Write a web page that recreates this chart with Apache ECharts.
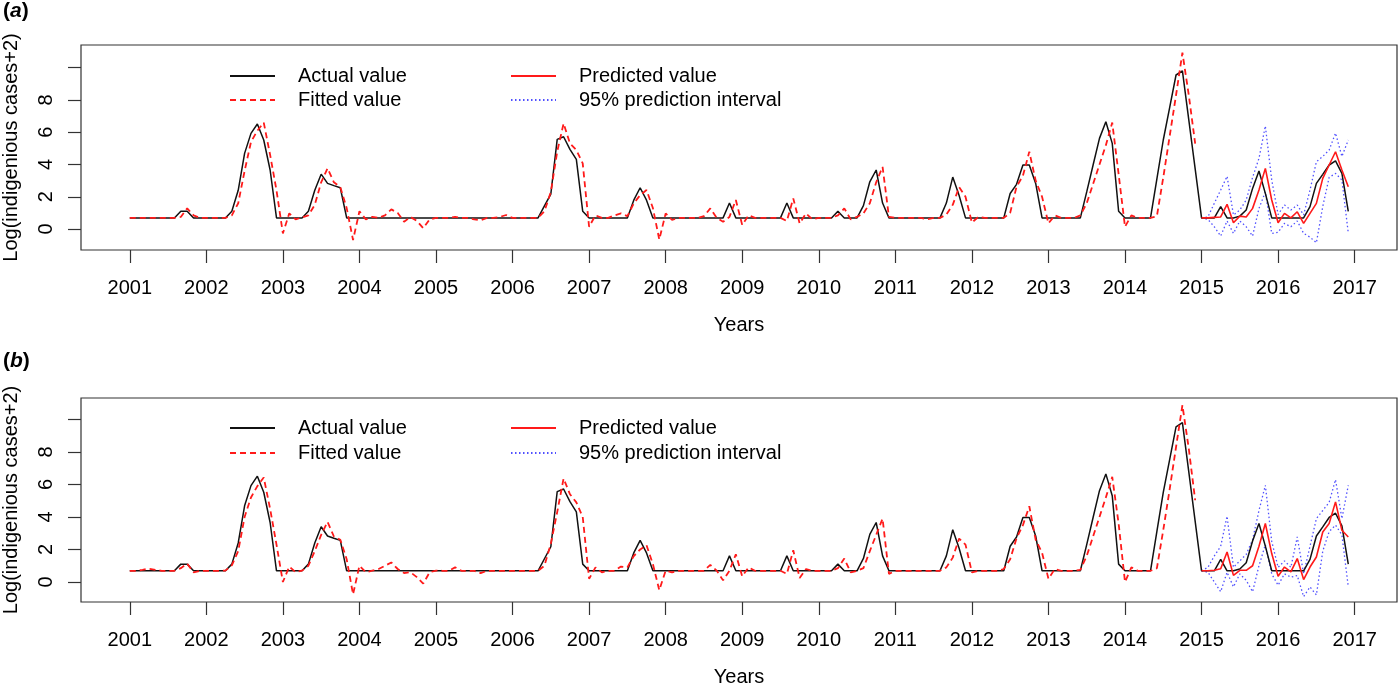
<!DOCTYPE html>
<html>
<head>
<meta charset="utf-8">
<script src="https://cdn.jsdelivr.net/npm/echarts@6/dist/echarts.min.js"></script>
<style>
html,body{margin:0;padding:0;background:#fff;}
#chart{width:1400px;height:685px;}
</style>
</head>
<body>
<div id="chart"></div>
<script>
// ---- data ----
const startYear = 2001;
const yearTicks = [2001,2002,2003,2004,2005,2006,2007,2008,2009,2010,2011,2012,2013,2014,2015,2016,2017];
const yTicks = [0,2,4,6,8,10];
const yTickLabels = [0,2,4,6,8];
const seriesNames = ['Actual value','Fitted value','Predicted value','95% prediction interval'];

// monthly, Jan 2001 - Dec 2016
const actual = [
0.69,0.69,0.69,0.69,0.69,0.69,0.69,0.69,1.10,1.10,0.69,0.69,
0.69,0.69,0.69,0.69,1.10,2.40,4.69,5.93,6.51,5.52,3.66,0.69,
0.69,0.69,0.69,0.69,1.10,2.40,3.40,2.83,2.69,2.56,0.69,0.69,
0.69,0.69,0.69,0.69,0.69,0.69,0.69,0.69,0.69,0.69,0.69,0.69,
0.69,0.69,0.69,0.69,0.69,0.69,0.69,0.69,0.69,0.69,0.69,0.69,
0.69,0.69,0.69,0.69,0.69,1.43,2.17,5.56,5.72,4.94,4.32,1.10,
0.69,0.69,0.69,0.69,0.69,0.69,0.69,1.79,2.56,1.79,0.69,0.69,
0.69,0.69,0.69,0.69,0.69,0.69,0.69,0.69,0.69,0.69,1.61,0.69,
0.69,0.69,0.69,0.69,0.69,0.69,0.69,1.61,0.69,0.69,0.69,0.69,
0.69,0.69,0.69,1.10,0.69,0.69,0.69,1.45,2.93,3.66,1.61,0.69,
0.69,0.69,0.69,0.69,0.69,0.69,0.69,0.69,1.61,3.22,2.08,0.69,
0.69,0.69,0.69,0.69,0.69,0.69,2.20,2.77,3.97,3.97,2.83,0.69,
0.69,0.69,0.69,0.69,0.69,0.69,2.30,3.97,5.62,6.65,5.31,1.10,
0.69,0.69,0.69,0.69,0.69,3.11,5.52,7.53,9.55,9.81,6.77,3.73,
0.69,0.69,0.69,1.39,0.69,0.69,0.80,1.18,2.52,3.60,2.21,0.69,
0.69,0.69,0.69,0.69,0.69,1.39,2.83,3.39,3.97,4.23,3.45,1.10
];

// fitted, Jan 2001 - Dec 2014 (panel a)
const fittedA = [
0.69,0.69,0.69,0.69,0.69,0.69,0.69,0.69,0.75,1.28,0.85,0.69,
0.69,0.69,0.69,0.69,0.85,1.60,3.60,5.40,6.10,6.60,4.60,2.40,
-0.27,0.97,0.60,0.72,0.85,1.50,2.90,3.76,2.90,2.60,1.30,-0.68,
1.10,0.60,0.75,0.69,0.85,1.22,1.00,0.45,0.75,0.50,0.05,0.60,
0.69,0.69,0.69,0.75,0.69,0.69,0.60,0.55,0.69,0.69,0.75,0.87,
0.69,0.69,0.69,0.69,0.69,1.10,2.30,4.80,6.55,5.31,4.90,4.07,
0.14,0.85,0.69,0.69,0.85,0.97,0.80,1.59,2.10,2.42,1.30,-0.65,
0.97,0.56,0.69,0.69,0.69,0.69,0.80,1.28,0.69,0.45,0.75,1.80,
0.25,0.85,0.69,0.69,0.69,0.69,0.69,0.50,1.90,0.35,0.97,0.60,
0.69,0.69,0.69,0.85,1.28,0.60,0.75,0.97,1.60,2.90,3.86,0.75,
0.69,0.69,0.69,0.69,0.69,0.60,0.69,0.69,0.90,1.50,2.60,2.00,
0.40,0.75,0.69,0.69,0.69,0.69,1.00,2.62,3.30,4.79,3.00,2.00,
0.35,0.85,0.69,0.69,0.69,0.85,1.60,2.80,4.00,5.20,6.60,3.40,
0.14,0.85,0.69,0.69,0.69,0.80,3.20,5.75,8.30,10.93,8.30,5.30
];

// fitted, Jan 2001 - Dec 2014 (panel b)
const fittedB = [
0.69,0.69,0.75,0.82,0.75,0.69,0.69,0.69,0.85,1.13,0.60,0.69,
0.69,0.69,0.69,0.70,1.03,1.90,4.00,5.20,5.90,6.43,4.50,2.30,
0.00,0.95,0.60,0.70,1.00,1.90,2.90,3.70,2.80,2.60,1.40,-0.76,
1.00,0.60,0.70,0.80,1.00,1.20,0.80,0.55,0.60,0.30,-0.10,0.60,
0.70,0.69,0.69,0.90,0.69,0.69,0.69,0.55,0.69,0.69,0.69,0.69,
0.69,0.69,0.69,0.69,0.69,1.00,2.36,4.30,6.37,5.40,4.90,4.00,
0.20,0.90,0.60,0.69,0.69,0.95,0.90,1.60,2.00,2.26,1.10,-0.50,
0.70,0.60,0.69,0.69,0.69,0.69,0.69,1.05,0.70,0.10,0.70,1.70,
0.35,0.90,0.69,0.69,0.69,0.69,0.69,0.50,1.95,0.25,0.80,0.69,
0.69,0.69,0.69,0.85,1.44,0.60,0.69,0.85,1.90,2.90,3.90,0.50,
0.69,0.69,0.69,0.69,0.69,0.69,0.69,0.69,0.90,1.50,2.67,2.30,
0.60,0.69,0.69,0.69,0.69,0.80,1.40,2.70,3.50,4.66,2.60,1.80,
0.20,0.80,0.69,0.69,0.69,0.75,1.60,2.80,4.00,5.20,6.47,3.60,
0.00,0.90,0.69,0.69,0.69,0.85,3.20,5.70,8.30,10.88,8.20,5.03
];

// predictions, Jan 2015 - Dec 2016
const predA  = [0.69,0.69,0.72,0.75,1.53,0.39,0.80,0.75,1.28,2.42,3.76,1.80, 0.39,0.97,0.69,1.07,0.35,0.97,1.59,3.14,3.97,4.79,3.66,2.62];
const lowerA = [0.69,0.60,0.14,-0.43,0.50,-0.27,0.50,0.14,-0.43,1.28,2.30,-0.27, -0.20,0.35,0.14,0.50,-0.27,-0.50,-0.85,1.40,3.20,3.45,3.04,-0.25];
const upperA = [0.69,0.75,1.60,2.42,3.27,0.87,1.18,1.80,3.20,4.38,6.39,3.04, 0.90,1.49,1.18,1.49,0.87,2.42,4.17,4.50,4.90,5.95,4.50,5.52];

const predB  = [0.69,0.69,0.72,0.82,1.85,0.41,0.72,0.72,1.00,2.20,3.60,1.75, 0.35,0.92,0.62,1.44,0.15,0.92,1.54,3.08,3.60,4.93,3.18,2.77];
const lowerB = [0.69,0.60,0.00,-0.60,0.60,-0.30,0.50,0.10,-0.60,1.00,2.30,0.50, -0.20,0.50,0.30,0.40,-0.90,-0.30,-0.80,1.90,3.10,3.50,2.90,-0.30];
const upperB = [0.69,0.90,1.60,2.20,4.05,0.90,1.30,1.70,2.60,4.40,5.95,2.50, 0.90,1.30,0.90,2.77,0.50,2.20,3.90,4.40,4.90,6.30,3.90,5.95];

const predStart = 168; // Jan 2015 index

// ---- build ----
const F = 'Liberation Sans, Arial, Helvetica, sans-serif';
const toPairs = (arr, offset) => arr.map((v, i) => [startYear + (i + offset) / 12, v]);

const panels = [
  {fitted: fittedA, pred: predA, lower: lowerA, upper: upperA, top: 45, height: 205, ymin: -1.30, ymax: 11.41, legendTop: 66, gap: 4, label: 'a', labelTop: 1},
  {fitted: fittedB, pred: predB, lower: lowerB, upper: upperB, top: 398, height: 204, ymin: -1.23, ymax: 11.32, legendTop: 418, gap: 5, label: 'b', labelTop: 351}
];

const grids = [], xAxes = [], yAxes = [], series = [], legends = [], titles = [];
panels.forEach((p, k) => {
  grids.push({left: 81, right: 3, top: p.top, height: p.height, show: true, containLabel: false,
    outerBoundsMode: 'none',
    borderColor: '#333', borderWidth: 1.2, backgroundColor: 'transparent'});
  xAxes.push({
    gridIndex: k, type: 'value', min: 2000.363, max: 2017.553, position: 'bottom',
    axisLine: {show: false, onZero: false}, splitLine: {show: false},
    axisTick: {show: true, length: 13, customValues: yearTicks, lineStyle: {color: '#333', width: 1.2}},
    axisLabel: {customValues: yearTicks, formatter: v => String(v), fontSize: 20, color: '#000', fontFamily: F, margin: 28},
    name: 'Years', nameLocation: 'middle', nameGap: 65,
    nameTextStyle: {fontSize: 20, color: '#000', fontFamily: F}
  });
  yAxes.push({
    gridIndex: k, type: 'value', min: p.ymin, max: p.ymax, position: 'left',
    axisLine: {show: false, onZero: false}, splitLine: {show: false},
    axisTick: {show: true, length: 13, customValues: yTicks, lineStyle: {color: '#333', width: 1.2}},
    axisLabel: {customValues: yTickLabels, rotate: 90, fontSize: 20, lineHeight: 20, color: '#000', fontFamily: F, margin: 25},
    name: 'Log(indigenious cases+2)', nameLocation: 'middle', nameGap: 60, nameRotate: 90,
    nameTextStyle: {fontSize: 20, lineHeight: 20, color: '#000', fontFamily: F}
  });
  const base = {type: 'line', xAxisIndex: k, yAxisIndex: k, symbol: 'none', showSymbol: false, silent: true, animation: false};
  series.push(Object.assign({}, base, {name: seriesNames[3], data: toPairs(p.lower, predStart),
    lineStyle: {color: '#5050ff', width: 1.3, type: [1.5, 2.5]}, itemStyle: {color: '#5050ff'}, z: 2}));
  series.push(Object.assign({}, base, {name: seriesNames[3], data: toPairs(p.upper, predStart),
    lineStyle: {color: '#5050ff', width: 1.3, type: [1.5, 2.5]}, itemStyle: {color: '#5050ff'}, z: 2}));
  series.push(Object.assign({}, base, {name: seriesNames[0], data: toPairs(actual, 0),
    lineStyle: {color: '#111', width: 1.5}, itemStyle: {color: '#111'}, z: 3}));
  series.push(Object.assign({}, base, {name: seriesNames[1], data: toPairs(p.fitted, 0),
    lineStyle: {color: '#ff1a1a', width: 1.8, type: [6, 4]}, itemStyle: {color: '#ff1a1a'}, z: 4}));
  series.push(Object.assign({}, base, {name: seriesNames[2], data: toPairs(p.pred, predStart),
    lineStyle: {color: '#ff1a1a', width: 1.6}, itemStyle: {color: '#ff1a1a'}, z: 5}));

  const legText = {fontSize: 20, lineHeight: 20, color: '#000', fontFamily: F, padding: [0, 0, 0, 18]};
  const legCommon = {orient: 'vertical', top: p.legendTop, padding: 0, itemGap: p.gap, itemWidth: 45, itemHeight: 14,
    selectedMode: false, textStyle: legText, itemStyle: {opacity: 0, borderWidth: 0}};
  legends.push(Object.assign({data: [seriesNames[0], seriesNames[1]], left: 229}, legCommon));
  legends.push(Object.assign({data: [seriesNames[2], seriesNames[3]], left: 510}, legCommon));

  titles.push({text: '{n|(}{i|' + p.label + '}{n|)}', left: 3, top: p.labelTop, padding: 0,
    textStyle: {rich: {n: {fontSize: 21, fontFamily: F, color: '#000'}, i: {fontSize: 21, fontFamily: F, fontStyle: 'italic', color: '#000'}}}});
});

const chart = echarts.init(document.getElementById('chart'), null, {renderer: 'canvas'});
chart.setOption({
  animation: false,
  backgroundColor: '#fff',
  title: titles,
  grid: grids,
  xAxis: xAxes,
  yAxis: yAxes,
  legend: legends,
  series: series
});
</script>
</body>
</html>
